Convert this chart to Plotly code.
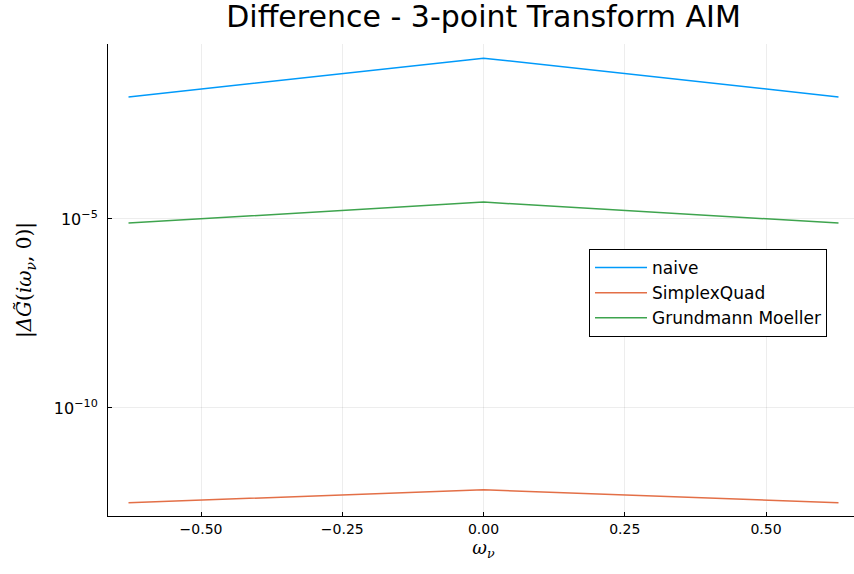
import plotly.graph_objects as go

omega = [-0.6283, 0.0, 0.6283]
naive = [1.7e-2, 1.8e-1, 1.7e-2]
simplex_quad = [3.1e-13, 6.8e-13, 3.1e-13]
grundmann_moeller = [7.8e-6, 2.8e-5, 7.8e-6]

x_ticks = [-0.5, -0.25, 0.0, 0.25, 0.5]
x_tick_labels = ["−0.50", "−0.25", "0.00", "0.25", "0.50"]
y_ticks = [1e-10, 1e-5]
y_tick_labels = ["10<sup>−10</sup>", "10<sup>−5</sup>"]

fig = go.Figure()
series = [("naive", naive, "#009AFA"),
          ("SimplexQuad", simplex_quad, "#E36F47"),
          ("Grundmann Moeller", grundmann_moeller, "#3EA44E")]
for name, vals, col in series:
    fig.add_trace(go.Scatter(x=omega, y=vals, mode="lines", name=name,
                             line=dict(color=col, width=1.5)))

# plot area runs slightly past the right edge of the window, as in the reference
fig.update_layout(
    width=861, height=574,
    margin=dict(l=108, r=2, t=44, b=58, autoexpand=False),
    paper_bgcolor="white", plot_bgcolor="white",
    font=dict(family="DejaVu Sans", size=14, color="black"),
    title=dict(text="Difference - 3-point Transform AIM", x=0.5616, xanchor="center",
               y=0.971, yanchor="middle", font=dict(size=30)),
    showlegend=True,
    legend=dict(x=0.6405, y=0.5657, xanchor="left", yanchor="top",
                bordercolor="black", borderwidth=1, bgcolor="white",
                font=dict(size=17), tracegroupgap=0, itemwidth=52),
    xaxis=dict(range=[-0.6646, 0.6646], tickvals=x_ticks, ticktext=x_tick_labels,
               showgrid=True, gridcolor="rgba(0,0,0,0.07)", zeroline=False,
               showline=True, linecolor="black", linewidth=1, automargin=False,
               ticks="inside", ticklen=4, tickcolor="black",
               tickfont=dict(size=14),
               title=dict(text="<i>ω<sub>ν</sub></i>", font=dict(family="DejaVu Serif", size=18), standoff=2)),
    yaxis=dict(type="log", range=[-12.86, -0.37], tickvals=y_ticks, ticktext=y_tick_labels,
               showgrid=True, gridcolor="rgba(0,0,0,0.07)", zeroline=False,
               showline=True, linecolor="black", linewidth=1, automargin=False,
               ticks="inside", ticklen=4, tickcolor="black",
               tickfont=dict(size=16), ticklabelstandoff=6,
               title=dict(text="|<i>Δ</i><i>G̃</i>(<i>iω<sub>ν</sub></i>, 0)|", font=dict(family="DejaVu Serif", size=20), standoff=16)),
)

fig.write_html("out.html", config={"displayModeBar": False},
               post_script="document.body.style.margin='0';document.body.style.overflow='hidden';")
